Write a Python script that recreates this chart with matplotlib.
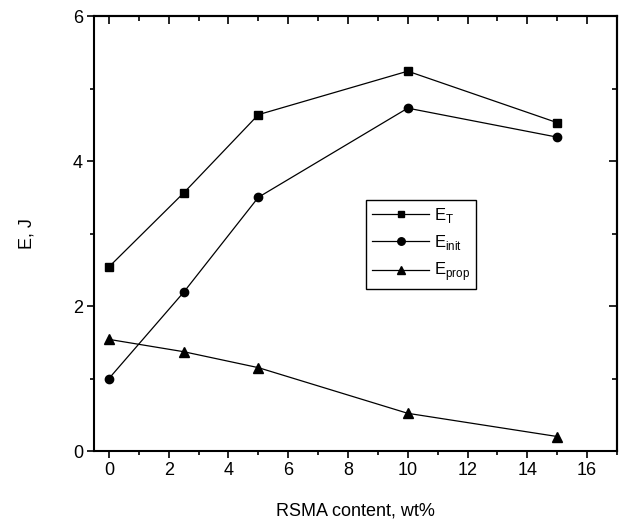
import matplotlib
matplotlib.use("Agg")
import matplotlib.pyplot as plt
from matplotlib.ticker import MultipleLocator

plt.rcParams["font.family"] = ["Liberation Sans", "DejaVu Sans"]
plt.rcParams["mathtext.fontset"] = "custom"
plt.rcParams["mathtext.rm"] = "Liberation Sans"

# data
rsma = [0, 2.5, 5, 10, 15]
e_total = [2.54, 3.56, 4.64, 5.24, 4.53]
e_init = [1.00, 2.19, 3.50, 4.73, 4.33]
e_prop = [1.54, 1.37, 1.15, 0.52, 0.20]

fig = plt.figure(figsize=(6.21, 5.24), dpi=100)
ax = fig.add_axes([0.1514, 0.1393, 0.842, 0.830])

ax.plot(rsma, e_total, "k-", marker="s", ms=5.5, lw=0.9, label=r"E$_\mathregular{T}$")
ax.plot(rsma, e_init, "k-", marker="o", ms=6, lw=0.9, label=r"E$_\mathregular{init}$")
ax.plot(rsma, e_prop, "k-", marker="^", ms=6.5, lw=0.9, label=r"E$_\mathregular{prop}$")

ax.set_xlim(-0.5, 17)
ax.set_ylim(0, 6)
ax.xaxis.set_major_locator(MultipleLocator(2))
ax.xaxis.set_minor_locator(MultipleLocator(1))
ax.yaxis.set_major_locator(MultipleLocator(2))
ax.yaxis.set_minor_locator(MultipleLocator(1))

for s in ax.spines.values():
    s.set_linewidth(1.5)

ax.tick_params(which="major", direction="out", length=5, width=1.2, labelsize=13, pad=3)
ax.tick_params(which="minor", direction="out", length=3, width=1.2)

# inward ticks on top and right
top = ax.secondary_xaxis("top")
top.xaxis.set_major_locator(MultipleLocator(2))
top.xaxis.set_minor_locator(MultipleLocator(1))
top.tick_params(which="major", direction="in", length=6, width=1.2, labeltop=False)
top.tick_params(which="minor", direction="in", length=3.5, width=1.2)
top.spines["top"].set_linewidth(1.5)

right = ax.secondary_yaxis("right")
right.yaxis.set_major_locator(MultipleLocator(2))
right.yaxis.set_minor_locator(MultipleLocator(1))
right.tick_params(which="major", direction="in", length=6, width=1.2, labelright=False)
right.tick_params(which="minor", direction="in", length=3.5, width=1.2)
right.spines["right"].set_linewidth(1.5)

ax.set_xlabel("RSMA content, wt%", fontsize=13, labelpad=17)
ax.set_ylabel("E, J", fontsize=13, labelpad=27)

leg = ax.legend(loc="upper left", bbox_to_anchor=(0.521, 0.577), fontsize=12,
                frameon=True, fancybox=False, edgecolor="black", framealpha=1,
                handlelength=3.4, handletextpad=0.3, labelspacing=0.5,
                borderpad=0.35, borderaxespad=0, markerscale=0.9)
leg.get_frame().set_linewidth(1.0)

fig.savefig("out.png", dpi=100)
